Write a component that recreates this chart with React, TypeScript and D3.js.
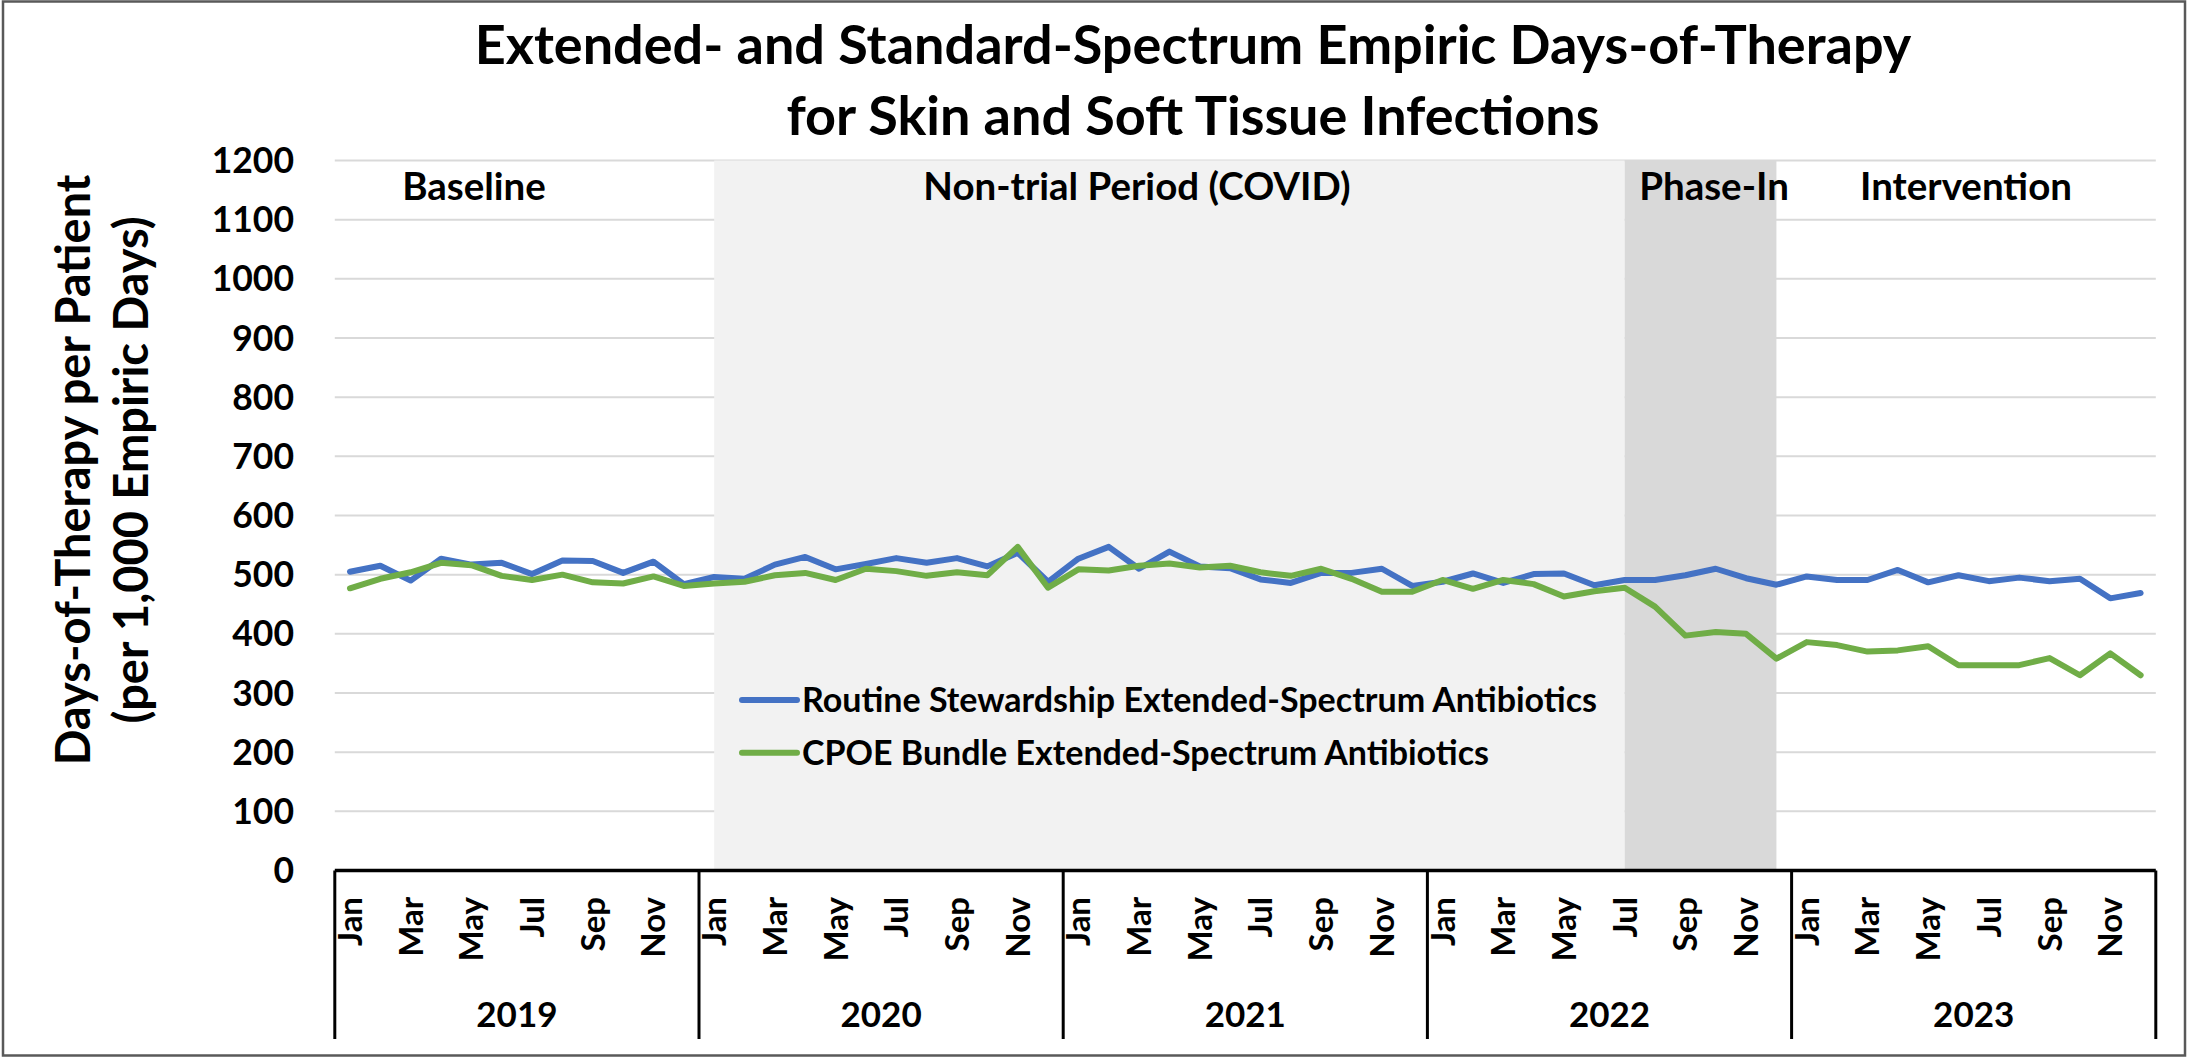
import { useEffect, useRef } from 'react';
import * as d3 from 'd3';

const monthNames = ['Jan', 'Feb', 'Mar', 'Apr', 'May', 'Jun', 'Jul', 'Aug', 'Sep', 'Oct', 'Nov', 'Dec'];
const years = ['2019', '2020', '2021', '2022', '2023'];

// Routine Stewardship Extended-Spectrum Antibiotics, Jan 2019 .. Dec 2023
const routine = [
  505, 515, 490, 527, 517, 520, 501, 524, 523, 503, 522, 484,
  496, 493, 517, 530, 509, 518, 528, 520, 528, 514, 537, 488,
  527, 547, 510, 539, 514, 511, 492, 486, 503, 503, 510, 481,
  488, 502, 486, 501, 502, 482, 491, 491, 499, 510, 494, 483,
  497, 491, 491, 508, 487, 499, 489, 495, 489, 493, 460, 469,
];

// CPOE Bundle Extended-Spectrum Antibiotics
const cpoe = [
  477, 493, 504, 520, 516, 498, 491, 500, 487, 485, 497, 481,
  485, 488, 499, 503, 491, 510, 506, 498, 504, 499, 547, 478,
  509, 507, 515, 519, 512, 515, 504, 498, 510, 493, 471, 471,
  491, 476, 491, 484, 463, 472, 478, 446, 397, 403, 400, 358,
  386, 381, 370, 372, 379, 347, 347, 347, 359, 330, 367, 330,
];

const yTicks = [0, 100, 200, 300, 400, 500, 600, 700, 800, 900, 1000, 1100, 1200];

// periods, as month indices (start point -> end point)
const periods = [
  { name: 'Non-trial Period (COVID)', from: 12, to: 42, fill: '#f2f2f2' },
  { name: 'Phase-In', from: 42, to: 47, fill: '#d9d9d9' },
];

const periodLabels = [
  { name: 'Baseline', cx: 474 },
  { name: 'Non-trial Period (COVID)', cx: 1137 },
  { name: 'Phase-In', cx: 1714 },
  { name: 'Intervention', cx: 1966 },
];

const series = [
  { name: 'Routine Stewardship Extended-Spectrum Antibiotics', values: routine, color: '#4472c4' },
  { name: 'CPOE Bundle Extended-Spectrum Antibiotics', values: cpoe, color: '#70ad47' },
];

export default function App() {
  const ref = useRef(null);

  useEffect(() => {
    if (!ref.current) return;
    const svg = d3.select(ref.current);
    svg.selectAll('*').remove();

    const width = 2188;
    const height = 1058;
    const font = 'Lato, "Noto Sans", sans-serif';
    svg.attr('width', width).attr('height', height);

    const left = 334.8;
    const right = 2155.8;
    const top = 160.5;
    const bottom = 870.5;

    const n = routine.length;
    const x = d3
      .scaleBand<number>()
      .domain(d3.range(n))
      .range([left, right])
      .paddingInner(0)
      .paddingOuter(0);
    const xp = (i: number) => x(i)! + x.bandwidth() / 2;

    const y = d3.scaleLinear().domain([0, 1200]).range([bottom, top]);

    // outer border
    svg
      .append('rect')
      .attr('x', 3)
      .attr('y', 1.5)
      .attr('width', width - 6)
      .attr('height', height - 4)
      .attr('fill', 'white')
      .attr('stroke', '#595959')
      .attr('stroke-width', 2.5);

    // gridlines
    svg
      .append('g')
      .selectAll('line')
      .data(yTicks.filter((t) => t > 0))
      .enter()
      .append('line')
      .attr('x1', left)
      .attr('x2', right)
      .attr('y1', (d) => y(d))
      .attr('y2', (d) => y(d))
      .attr('stroke', '#d9d9d9')
      .attr('stroke-width', 2);

    // shaded periods
    svg
      .append('g')
      .selectAll('rect')
      .data(periods)
      .enter()
      .append('rect')
      .attr('x', (d) => xp(d.from))
      .attr('width', (d) => xp(d.to) - xp(d.from))
      .attr('y', y(1200))
      .attr('height', y(0) - y(1200))
      .attr('fill', (d) => d.fill);

    // period labels
    svg
      .append('g')
      .selectAll('text')
      .data(periodLabels)
      .enter()
      .append('text')
      .attr('x', (d) => d.cx)
      .attr('y', 200)
      .attr('text-anchor', 'middle')
      .attr('font-family', font)
      .attr('font-weight', 'bold')
      .attr('font-size', 38.5)
      .text((d) => d.name);

    // legend
    const legend = svg
      .append('g')
      .selectAll('g')
      .data(series)
      .enter()
      .append('g')
      .attr('transform', (_d, i) => `translate(742, ${700 + i * 52.7})`);
    legend
      .append('line')
      .attr('x1', 0)
      .attr('x2', 55)
      .attr('stroke', (d) => d.color)
      .attr('stroke-width', 6)
      .attr('stroke-linecap', 'round');
    legend
      .append('text')
      .attr('x', 60)
      .attr('y', 12)
      .attr('font-family', font)
      .attr('font-weight', 'bold')
      .attr('font-size', 34)
      .text((d) => d.name);

    // lines
    const line = d3
      .line<number>()
      .x((_d, i) => xp(i))
      .y((d) => y(d));
    svg
      .append('g')
      .selectAll('path')
      .data(series)
      .enter()
      .append('path')
      .attr('d', (d) => line(d.values))
      .attr('fill', 'none')
      .attr('stroke', (d) => d.color)
      .attr('stroke-width', 6)
      .attr('stroke-linejoin', 'round')
      .attr('stroke-linecap', 'round');

    // category axis (two levels)
    const axis = svg.append('g');
    axis
      .append('line')
      .attr('x1', left)
      .attr('x2', right)
      .attr('y1', bottom)
      .attr('y2', bottom)
      .attr('stroke', 'black')
      .attr('stroke-width', 3.5);
    axis
      .selectAll('line.sep')
      .data(d3.range(years.length + 1))
      .enter()
      .append('line')
      .attr('class', 'sep')
      .attr('x1', (k) => (k < years.length ? x(k * 12)! : right))
      .attr('x2', (k) => (k < years.length ? x(k * 12)! : right))
      .attr('y1', bottom)
      .attr('y2', 1039)
      .attr('stroke', 'black')
      .attr('stroke-width', 3);

    axis
      .selectAll('text.month')
      .data(d3.range(n).filter((i) => i % 2 === 0))
      .enter()
      .append('text')
      .attr('class', 'month')
      .attr('transform', (i) => `translate(${xp(i) + 12}, 897) rotate(-90)`)
      .attr('text-anchor', 'end')
      .attr('font-family', font)
      .attr('font-weight', 'bold')
      .attr('font-size', 33)
      .text((i) => monthNames[i % 12]);

    axis
      .selectAll('text.year')
      .data(years)
      .enter()
      .append('text')
      .attr('class', 'year')
      .attr('x', (_d, k) => (x(k * 12)! + (k < years.length - 1 ? x((k + 1) * 12)! : right)) / 2)
      .attr('y', 1027)
      .attr('text-anchor', 'middle')
      .attr('font-family', font)
      .attr('font-weight', 'bold')
      .attr('font-size', 35)
      .text((d) => d);

    // value axis labels
    svg
      .append('g')
      .selectAll('text')
      .data(yTicks)
      .enter()
      .append('text')
      .attr('x', 294)
      .attr('y', (d) => y(d) + 12.5)
      .attr('text-anchor', 'end')
      .attr('font-family', font)
      .attr('font-weight', 'bold')
      .attr('font-size', 35.5)
      .text((d) => d);

    // value axis title
    const yTitle = ['Days-of-Therapy per Patient', '(per 1,000 Empiric Days)'];
    svg
      .append('g')
      .selectAll('text')
      .data(yTitle)
      .enter()
      .append('text')
      .attr('transform', (_d, i) => `translate(${90 + i * 58}, 470) rotate(-90)`)
      .attr('text-anchor', 'middle')
      .attr('font-family', font)
      .attr('font-weight', 'bold')
      .attr('font-size', 47)
      .text((d) => d);

    // chart title
    const title = ['Extended- and Standard-Spectrum Empiric Days-of-Therapy', 'for Skin and Soft Tissue Infections'];
    svg
      .append('g')
      .selectAll('text')
      .data(title)
      .enter()
      .append('text')
      .attr('x', 1193)
      .attr('y', (_d, i) => 64 + i * 71)
      .attr('text-anchor', 'middle')
      .attr('font-family', font)
      .attr('font-weight', 'bold')
      .attr('font-size', 54)
      .text((d) => d);
  }, []);

  return <svg ref={ref} style={{ position: 'absolute', left: 0, top: 0, display: 'block' }} />;
}
